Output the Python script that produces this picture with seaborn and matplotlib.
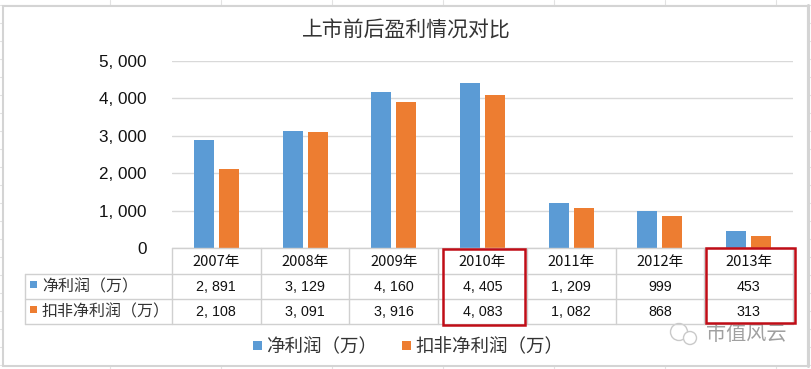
import matplotlib
matplotlib.use('Agg')
import matplotlib.pyplot as plt
import numpy as np
import pandas as pd
import seaborn as sns
from matplotlib.patches import Circle, Rectangle

W, H = 812, 369

years = ['2007年', '2008年', '2009年', '2010年', '2011年', '2012年', '2013年']
net_profit = [2891, 3129, 4160, 4405, 1209, 999, 453]
adj_profit = [2108, 3091, 3916, 4083, 1082, 868, 313]
net_text = ['2, 891', '3, 129', '4, 160', '4, 405', '1, 209', '999', '453']
adj_text = ['2, 108', '3, 091', '3, 916', '4, 083', '1, 082', '868', '313']
series = ['净利润（万）', '扣非净利润（万）']
colors = ['#5b9bd5', '#ed7d31']
y_ticks = [0, 1000, 2000, 3000, 4000, 5000]
y_labels = ['0', '1, 000', '2, 000', '3, 000', '4, 000', '5, 000']

sns.set_theme(style='white')
plt.rcParams['font.family'] = ['Noto Sans CJK SC', 'DejaVu Sans']

df = pd.DataFrame({
    'year': years * 2,
    'series': [series[0]] * 7 + [series[1]] * 7,
    'value': net_profit + adj_profit,
})

fig = plt.figure(figsize=(W / 100, H / 100), dpi=100, facecolor='white')

# overlay in pixel coordinates for sheet background, table and notes
bg = fig.add_axes([0, 0, 1, 1], zorder=0)
bg.set_xlim(0, W)
bg.set_ylim(H, 0)
bg.axis('off')
for x in [110, 221, 332, 443, 554, 665, 776]:
    bg.plot([x, x], [0, H], color='#e2e2e2', lw=0.8)
for y in range(5, H, 18):
    bg.plot([0, W], [y, y], color='#e2e2e2', lw=0.8)
bg.add_patch(Rectangle((3.5, 5.5), 805, 360.5, fc='white', ec='#d4d4d4', lw=1.5, zorder=2))
bg.plot([808.5, 808.5], [5, 366], color='#d4d4d4', lw=2.2, zorder=3)

x0, x1 = 172, 793
y_top, y_zero = 61, 248
ax = fig.add_axes([x0 / W, 1 - y_zero / H, (x1 - x0) / W, (y_zero - y_top) / H], zorder=1)
ax.patch.set_alpha(0)
sns.barplot(data=df, x='year', y='value', hue='series', palette=colors, width=0.562, gap=0.2,
            saturation=1, legend=False, linewidth=0, ax=ax, zorder=3)
ax.set_xlim(-0.5, 6.5)
ax.set_ylim(0, 5000)
ax.set_yticks(y_ticks)
ax.set_yticklabels(y_labels, fontsize=12.3, family='Liberation Sans', color='#111111')
ax.tick_params(axis='y', length=0, pad=18)
ax.set_xticks([])
ax.set_xlabel('')
ax.set_ylabel('')
ax.yaxis.grid(True, color='#d9d9d9', lw=1)
ax.set_axisbelow(True)
for s in ax.spines.values():
    s.set_visible(False)

ov = fig.add_axes([0, 0, 1, 1], zorder=2)
ov.set_xlim(0, W)
ov.set_ylim(H, 0)
ov.axis('off')

ov.text(406, 31, '上市前后盈利情况对比', ha='center', va='center', fontsize=15, color='#333333')

# data table
line = '#d0d0d0'
rows = [248, 274, 299, 324]
col = [x0 + i * (x1 - x0) / 7 for i in range(8)]
ov.plot([x0, x1], [rows[0], rows[0]], color=line, lw=1)
for y in rows[1:]:
    ov.plot([25, x1], [y, y], color=line, lw=1)
ov.plot([25, 25], [rows[1], rows[3]], color=line, lw=1)
for x in col:
    ov.plot([x, x], [rows[0], rows[3]], color=line, lw=1)
for i in range(7):
    cx = (col[i] + col[i + 1]) / 2
    ov.text(cx, 262, years[i], ha='center', va='center', fontsize=10.5, color='#111111')
    ov.text(cx, 287, net_text[i], ha='center', va='center', fontsize=10.3, family='Liberation Sans', color='#111111')
    ov.text(cx, 312, adj_text[i], ha='center', va='center', fontsize=10.3, family='Liberation Sans', color='#111111')
for y, name, c in zip([284, 309], series, colors):
    ov.add_patch(Rectangle((30, y - 3.5), 7, 7, fc=c, ec='none'))
    ov.text(42, y + 3, name, ha='left', va='center', fontsize=11.5, color='#333333')

# bottom legend
ov.add_patch(Rectangle((253, 341), 9, 9, fc=colors[0], ec='none'))
ov.text(266, 347, series[0], ha='left', va='center', fontsize=13.3, color='#333333')
ov.add_patch(Rectangle((402, 341), 9, 9, fc=colors[1], ec='none'))
ov.text(415, 347, series[1], ha='left', va='center', fontsize=13.3, color='#333333')

# red boxes
ov.add_patch(Rectangle((443, 249), 82, 76, fc='none', ec='#c00d17', lw=1.8, zorder=5))
ov.add_patch(Rectangle((706, 248), 89, 75, fc='none', ec='#c00d17', lw=1.8, zorder=5))

# watermark
ov.add_patch(Circle((679, 332), 8.5, fc='white', ec='#c9c9c9', lw=1))
ov.add_patch(Circle((690, 338), 6.5, fc='white', ec='#c9c9c9', lw=1))
ov.text(746, 335, '市值风云', ha='center', va='center', fontsize=14.5, color='#a0a0a0')

fig.savefig('out.png', dpi=100)
